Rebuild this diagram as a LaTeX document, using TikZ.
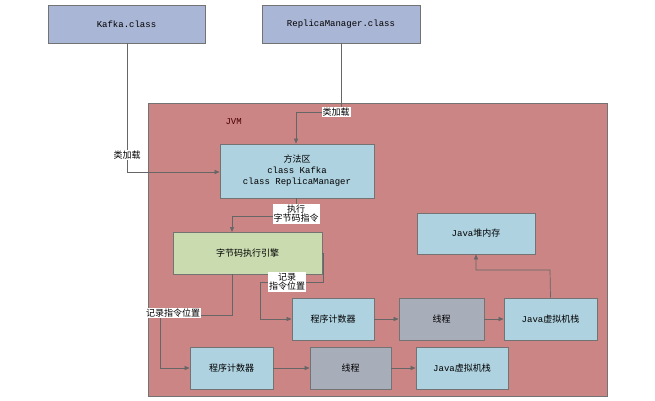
\documentclass[tikz,border=0pt]{standalone}
\usepackage{fontspec}
\setmainfont{Liberation Mono}
\newfontfamily\cjk{Noto Sans CJK SC}
\usetikzlibrary{arrows.meta}
\begin{document}
\begin{tikzpicture}[x=1pt,y=-1pt,font=\fontsize{9}{11}\selectfont,
  box/.style={draw=black!55,line width=0.8pt,inner sep=0pt,align=center},
  blue/.style={box,fill=blueb},
  cls/.style={box,fill=slate},
  gray/.style={box,fill=grayb},
  conn/.style={draw=black!60,line width=0.7pt,-{Triangle[length=5pt,width=4pt]}},
  lbl/.style={fill=white,inner sep=1pt,align=center,font=\fontsize{9}{11}\selectfont\cjk}]
\definecolor{blueb}{HTML}{AED2E0}
\definecolor{slate}{HTML}{A9B6D5}
\definecolor{grayb}{HTML}{A8ADBA}
\definecolor{greenb}{HTML}{CADBB0}
\definecolor{jvmc}{HTML}{CB8585}
\useasboundingbox (0,0) rectangle (655,400);
\fill[white] (0,0) rectangle (655,400);
\node[box,fill=jvmc,minimum width=459pt,minimum height=293pt] (jvm) at (377.5,249.5) {};
\node[anchor=west,text=black!70!red] (jvmt) at (222,122) {JVM};
\node[cls,minimum width=157pt,minimum height=38pt] (kafka) at (126.5,24) {Kafka.class};
\node[cls,minimum width=158pt,minimum height=38pt] (rm) at (341,24) {ReplicaManager.class};
\node[blue,minimum width=154pt,minimum height=54pt] (mf) at (297,171) {{\cjk 方法区}\\class Kafka\\class ReplicaManager};
\node[box,fill=greenb,minimum width=149pt,minimum height=42pt,font=\fontsize{9}{11}\selectfont\cjk] (eng) at (247.5,253) {字节码执行引擎};
\node[blue,minimum width=118pt,minimum height=41pt] (heap) at (476,233.5) {Java{\cjk 堆内存}};
\node[blue,minimum width=82pt,minimum height=42pt] (pc1) at (333,319) {\cjk 程序计数器};
\node[gray,minimum width=85pt,minimum height=42pt] (th1) at (441.5,319) {\cjk 线程};
\node[blue,minimum width=93pt,minimum height=42pt] (vs1) at (550.5,319) {Java{\cjk 虚拟机栈}};
\node[blue,minimum width=83pt,minimum height=42pt] (pc2) at (231.5,368) {\cjk 程序计数器};
\node[gray,minimum width=81pt,minimum height=42pt] (th2) at (350.5,368) {\cjk 线程};
\node[blue,minimum width=92pt,minimum height=42pt] (vs2) at (462,368) {Java{\cjk 虚拟机栈}};
\coordinate (a1) at (127,172);
\draw[conn] (kafka.south -| a1) -- (a1) -- (mf.west |- a1);
\node[lbl] (l1) at (127,155) {类加载};
\draw[conn] (rm.south) -- (341,112) -- (296,112) -- (mf.north -| 296,0);
\node[lbl] (l2) at (336,112) {类加载};
\draw[conn] (296,198) -- (296,216) -- (232,216) -- (232,232);
\node[lbl] (l3) at (296,214) {执行\\[-2pt]字节码指令};
\draw[conn] (eng.east |- 0,253) -- (323,253) -- (323,282) -- (260,282) -- (260,319) -- (pc1.west);
\node[lbl] (l4) at (287,282) {记录\\[-2pt]指令位置};
\draw[conn] (232,274) -- (232,315) -- (160,315) -- (160,368) -- (pc2.west);
\node[lbl] (l5) at (173,313) {记录指令位置};
\draw[conn] (pc1) -- (th1); \draw[conn] (th1) -- (vs1);
\draw[conn] (pc2) -- (th2); \draw[conn] (th2) -- (vs2);
\draw[conn] (vs1.north) -- (550,270) -- (476,270) -- (heap.south);
\end{tikzpicture}
\end{document}
